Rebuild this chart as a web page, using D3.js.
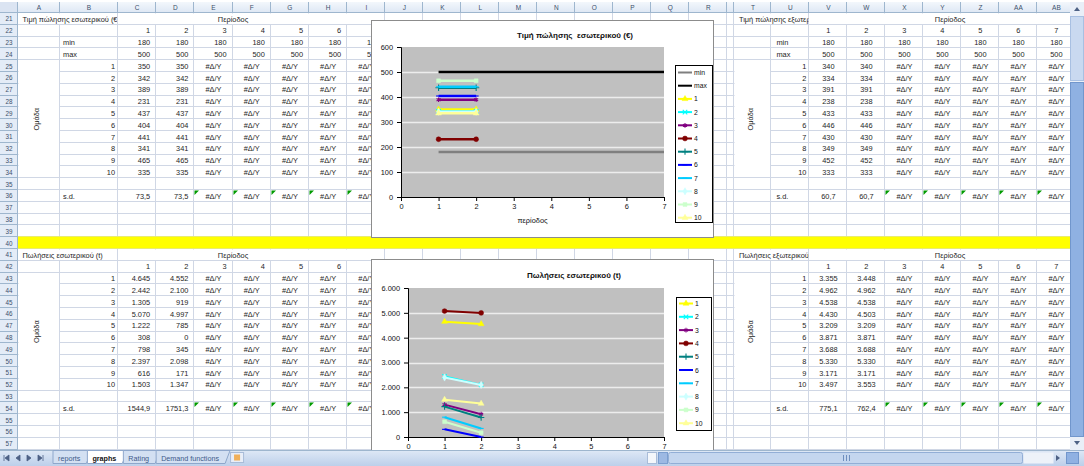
<!DOCTYPE html>
<html><head><meta charset="utf-8">
<script src="https://cdn.jsdelivr.net/npm/d3@7"></script>
<style>
body{margin:0;background:#fff;overflow:hidden}
svg{display:block;font-family:"Liberation Sans",Arial,sans-serif}
</style></head><body>
<svg id="sheet" width="1084" height="466"></svg>
<script>
// ---------- data ----------
const periods = [1, 2, 3, 4, 5, 6, 7];
const groups = [1, 2, 3, 4, 5, 6, 7, 8, 9, 10];
const priceDomMin = [180, 180, 180, 180, 180, 180, 180];
const priceDomMax = [500, 500, 500, 500, 500, 500, 500];
const priceDom = [[350, 350], [342, 342], [389, 389], [231, 231], [437, 437], [404, 404], [441, 441], [341, 341], [465, 465], [335, 335]];
const priceDomSD = ["73,5", "73,5"];
const salesDom = [[4645, 4552], [2442, 2100], [1305, 919], [5070, 4997], [1222, 785], [308, 0], [798, 345], [2397, 2098], [616, 171], [1503, 1347]];
const salesDomSD = ["1544,9", "1751,3"];
const priceExpMin = [180, 180, 180, 180, 180, 180, 180];
const priceExpMax = [500, 500, 500, 500, 500, 500, 500];
const priceExp = [[340, 340], [334, 334], [391, 391], [238, 238], [433, 433], [446, 446], [430, 430], [349, 349], [452, 452], [333, 333]];
const priceExpSD = ["60,7", "60,7"];
const salesExp = [[3355, 3448], [4962, 4962], [4538, 4538], [4430, 4503], [3209, 3209], [3871, 3871], [3688, 3688], [5330, 5330], [3171, 3171], [3497, 3553]];
const salesExpSD = ["775,1", "762,4"];
const priceTicks = [0, 100, 200, 300, 400, 500, 600];
const salesTicks = [0, 1000, 2000, 3000, 4000, 5000, 6000];
const periodTicks = [0, 1, 2, 3, 4, 5, 6, 7];
const sheetTabs = ["reports", "graphs", "Rating", "Demand functions"];
const activeTab = "graphs";
const NA = "#Δ/Υ";

// ---------- styles ----------
const seriesColors = ["#FFFF00", "#00FFFF", "#800080", "#800000", "#008080", "#0000FF", "#00CCFF", "#CCFFFF", "#CCFFCC", "#FFFF99"];
const seriesMarkers = ["triangle", "x", "star", "circle", "plus", "dash", "dash", "diamond", "square", "triangle"];

const svg = d3.select("#sheet");
const W = 1084, H = 466;
const el = d3.formatLocale({decimal: ",", thousands: ".", grouping: [3], currency: ["", "€"]});
const fmtThousands = el.format(",d");
const fmtPlain = d3.format("d");

// ---------- sheet layout ----------
const colNames = ["A","B","C","D","E","F","G","H","I","J","K","L","M","N","O","P","Q","R","S","T","U","V","W","X","Y","Z","AA","AB"];
const colW = [42, 58, 38.2, 38.2, 38.2, 38.2, 38.2, 38.2, 38.2, 38, 38, 38, 38, 38, 38, 38, 38, 38, 7, 37, 38, 38, 38, 38, 38, 38, 38, 38];
const gridX0 = 18, gridX1 = 1070, headTop = 2, headBottom = 13;
const colX = [];
{ let a = gridX0; colW.forEach(w => { colX.push(a); a += w; }); colX.push(a); }
const ci = n => colNames.indexOf(n);
const cL = n => colX[ci(n)];
const cR = n => colX[ci(n) + 1];
const firstRow = 21, lastRow = 58, rowH = 11.8;
const rowTop = r => headBottom + (r - firstRow) * rowH;
const rowMid = r => rowTop(r) + rowH / 2;
const sheetBottom = 450;

svg.append("rect").attr("width", W).attr("height", H).attr("fill", "#fff");

// cell gridlines
const grid = svg.append("g").attr("stroke", "#d0d7e5").attr("stroke-width", 1);
for (let r = firstRow; r <= lastRow; r++) {
  const y = Math.round(rowTop(r + 1)) - 0.5;
  if (y < sheetBottom) grid.append("line").attr("x1", gridX0).attr("x2", gridX1).attr("y1", y).attr("y2", y);
}
colX.forEach(x => {
  const xx = Math.round(x) - 0.5;
  if (xx < gridX1) grid.append("line").attr("x1", xx).attr("x2", xx).attr("y1", headBottom).attr("y2", sheetBottom);
});

// merged areas hide the inner gridlines
const cover = svg.append("g").attr("fill", "#fff");
function merge(c0, c1, r0, r1) {
  cover.append("rect").attr("x", Math.round(cL(c0)) + 0.5).attr("y", Math.round(rowTop(r0)) + 0.5)
    .attr("width", Math.round(cR(c1)) - Math.round(cL(c0)) - 1.5)
    .attr("height", Math.round(rowTop(r1 + 1)) - Math.round(rowTop(r0)) - 1.5);
}
// block title rows and group label columns
[21, 41].forEach(r => { merge("A", "B", r, r); merge("C", "I", r, r); merge("T", "U", r, r); merge("V", "AB", r, r); });
merge("A", "A", 25, 34); merge("A", "A", 43, 52);
merge("T", "T", 25, 34); merge("T", "T", 43, 52);

// separator row
svg.append("rect").attr("x", gridX0).attr("y", Math.round(rowTop(40)) - 0.5).attr("width", gridX1 - gridX0)
  .attr("height", Math.round(rowH)).attr("fill", "#ffff00");

// ---------- cell text ----------
const cells = svg.append("g").attr("font-size", 7.4).attr("fill", "#1e1e1e");
function put(col, row, text, align, pad) {
  let x, anchor;
  if (align === "c") { x = (cL(col) + cR(col)) / 2; anchor = "middle"; }
  else if (align === "l") { x = cL(col) + (pad ?? 3); anchor = "start"; }
  else { x = cR(col) - (pad ?? 3); anchor = "end"; }
  return cells.append("text").attr("x", x).attr("y", rowMid(row) + 2.7).attr("text-anchor", anchor).text(text);
}
function errMark(col, row) {
  const x = Math.round(cL(col)) + 0.5, y = Math.round(rowTop(row)) + 0.5;
  svg.append("path").attr("d", `M${x},${y}h4.5L${x},${y + 4.5}Z`).attr("fill", "#009a00");
}

const clipId = (() => { let n = 0; return () => "clip" + (n++); })();
function blockTitle(c0, c1, row, text) {
  const id = clipId();
  svg.append("clipPath").attr("id", id).append("rect")
    .attr("x", cL(c0)).attr("y", rowTop(row)).attr("width", cR(c1) - cL(c0) - 1).attr("height", rowH);
  cells.append("text").attr("clip-path", `url(#${id})`).attr("x", cL(c0) + 4.5).attr("y", rowMid(row) + 2.7).text(text);
}

// one table block: title row, period row, optional min/max rows, group rows, s.d. row
function tableBlock(o) {
  const valCols = colNames.slice(ci(o.firstVal), ci(o.firstVal) + periods.length);
  blockTitle(o.labelCol, o.groupCol, o.row, o.title);
  cells.append("text").attr("x", o.periodX).attr("y", rowMid(o.row) + 2.7).attr("text-anchor", "middle").text("Περίοδος");
  let r = o.row + 1;
  periods.forEach((p, i) => put(valCols[i], r, fmtPlain(p), o.numAlign, o.numPad));
  r++;
  if (o.min) {
    put(o.groupCol, r, "min", "l", o.textPad);
    o.min.forEach((v, i) => put(valCols[i], r, o.fmt(v), o.numAlign, o.numPad));
    r++;
    put(o.groupCol, r, "max", "l", o.textPad);
    o.max.forEach((v, i) => put(valCols[i], r, o.fmt(v), o.numAlign, o.numPad));
    r++;
  }
  const g0 = r;
  groups.forEach((gr, k) => {
    put(o.groupCol, r, fmtPlain(gr), "r", 3);
    periods.forEach((p, i) => {
      const v = o.values[k][i];
      if (v == null) put(valCols[i], r, NA, "c");
      else put(valCols[i], r, o.fmt(v), o.numAlign, o.numPad);
    });
    r++;
  });
  const gx = (cL(o.labelCol) + cR(o.labelCol)) / 2, gy = (rowTop(g0) + rowTop(r)) / 2;
  cells.append("text").attr("transform", `translate(${gx},${gy}) rotate(-90)`).attr("text-anchor", "middle").text("Ομάδα");
  r++;
  put(o.groupCol, r, "s.d.", "l", o.textPad);
  periods.forEach((p, i) => {
    const v = o.sd[i];
    if (v == null) { put(valCols[i], r, NA, "c"); errMark(valCols[i], r); }
    else put(valCols[i], r, v, o.numAlign, o.numPad);
  });
}

tableBlock({row: 21, title: "Τιμή πώλησης εσωτερικού (€)", labelCol: "A", groupCol: "B", firstVal: "C", periodX: 233,
  min: priceDomMin, max: priceDomMax, values: priceDom, sd: priceDomSD, fmt: fmtPlain, numAlign: "r", numPad: 6, textPad: 3});
tableBlock({row: 41, title: "Πωλήσεις εσωτερικού (t)", labelCol: "A", groupCol: "B", firstVal: "C", periodX: 233,
  values: salesDom, sd: salesDomSD, fmt: fmtThousands, numAlign: "r", numPad: 6, textPad: 3});
tableBlock({row: 21, title: "Τιμή πώλησης εξωτερικού (€)", labelCol: "T", groupCol: "U", firstVal: "V", periodX: 950,
  min: priceExpMin, max: priceExpMax, values: priceExp, sd: priceExpSD, fmt: fmtPlain, numAlign: "c", textPad: 5});
tableBlock({row: 41, title: "Πωλήσεις εξωτερικού (t)", labelCol: "T", groupCol: "U", firstVal: "V", periodX: 950,
  values: salesExp, sd: salesExpSD, fmt: fmtThousands, numAlign: "c", textPad: 5});

// ---------- charts ----------
function markerPath(type) {
  const size = 15;
  switch (type) {
    case "triangle": return d3.symbol(d3.symbolTriangle, size)();
    case "x": return d3.symbol(d3.symbolTimes, size)();
    case "star": return d3.symbol(d3.symbolAsterisk, size)();
    case "circle": return d3.symbol(d3.symbolCircle, size + 4)();
    case "plus": return d3.symbol(d3.symbolPlus, size)();
    case "diamond": return d3.symbol(d3.symbolDiamond, size)();
    case "square": return d3.symbol(d3.symbolSquare, size)();
    case "dash": return "M-2.5,0H2.5";
  }
  return null;
}
const strokeMarkers = new Set(["x", "star", "plus", "dash"]);
function markerStyle(sel, s) {
  if (strokeMarkers.has(s.marker)) sel.attr("fill", "none").attr("stroke", s.color).attr("stroke-width", 1.1);
  else sel.attr("fill", s.color).attr("stroke", s.color).attr("stroke-width", 0.5);
}
function styleAxis(g) {
  g.select(".domain").attr("stroke", "#000").attr("stroke-width", 1);
  g.selectAll(".tick line").attr("stroke", "#000");
  g.selectAll(".tick text").attr("font-size", 7.4).attr("fill", "#111").attr("font-family", "Liberation Sans, Arial, sans-serif");
}

function lineChart(c) {
  const g = svg.append("g");
  g.append("rect").attr("x", c.frame.x + 0.5).attr("y", c.frame.y + 0.5).attr("width", c.frame.w).attr("height", c.frame.h)
    .attr("fill", "#fff").attr("stroke", "#8c8c8c");
  const x = d3.scaleLinear().domain([0, 7]).range([c.plot.x, c.plot.x + c.plot.w]);
  const y = d3.scaleLinear().domain([0, c.yMax]).range([c.plot.y + c.plot.h, c.plot.y]);
  g.append("rect").attr("x", c.plot.x).attr("y", c.plot.y).attr("width", c.plot.w).attr("height", c.plot.h).attr("fill", "#c0c0c0");
  g.append("g").selectAll("line").data(c.yTicks.filter(t => t > 0 && t < c.yMax)).join("line")
    .attr("x1", c.plot.x).attr("x2", c.plot.x + c.plot.w)
    .attr("y1", d => Math.round(y(d)) + 0.5).attr("y2", d => Math.round(y(d)) + 0.5)
    .attr("stroke", "#ededed").attr("stroke-width", 1.4);
  g.append("g").attr("transform", `translate(${c.plot.x},0)`)
    .call(d3.axisLeft(y).tickValues(c.yTicks).tickFormat(c.fmt).tickSize(4).tickPadding(4)).call(styleAxis);
  g.append("g").attr("transform", `translate(0,${c.plot.y + c.plot.h})`)
    .call(d3.axisBottom(x).tickValues(periodTicks).tickFormat(fmtPlain).tickSize(4).tickPadding(3)).call(styleAxis);
  g.append("text").attr("x", c.titleX).attr("y", c.titleY).attr("text-anchor", "middle").attr("font-size", 8)
    .attr("font-weight", "bold").attr("fill", "#111").style("white-space", "pre").text(c.title);
  if (c.xLabel) g.append("text").attr("x", x(3.5)).attr("y", c.xLabelY).attr("text-anchor", "middle")
    .attr("font-size", 7.4).attr("fill", "#111").text(c.xLabel);

  const line = d3.line().defined(d => d.v != null).x(d => x(d.p)).y(d => y(d.v));
  c.series.forEach(s => {
    const pts = periods.map((p, i) => ({p, v: s.values[i] == null ? null : s.values[i]}));
    g.append("path").attr("d", line(pts)).attr("fill", "none").attr("stroke", s.color).attr("stroke-width", c.lineW);
    if (s.marker) g.append("g").selectAll("path").data(pts.filter(d => d.v != null)).join("path")
      .attr("transform", d => `translate(${x(d.p)},${y(d.v)})`).attr("d", markerPath(s.marker)).call(markerStyle, s);
  });

  const lg = g.append("g");
  lg.append("rect").attr("x", c.legend.x + 0.5).attr("y", c.legend.y + 0.5).attr("width", c.legend.w).attr("height", c.legend.h)
    .attr("fill", "#fff").attr("stroke", "#000");
  c.series.forEach((s, i) => {
    const ly = c.legend.y + c.legend.first + i * c.legend.step;
    const lx = c.legend.x + 3;
    lg.append("line").attr("x1", lx).attr("x2", lx + 14).attr("y1", ly).attr("y2", ly).attr("stroke", s.color).attr("stroke-width", 2);
    if (s.marker) lg.append("path").attr("transform", `translate(${lx + 7},${ly})`).attr("d", markerPath(s.marker)).call(markerStyle, s);
    lg.append("text").attr("x", lx + 16).attr("y", ly + 2.5).attr("font-size", 6.8).attr("fill", "#111").text(s.name);
  });
}

const groupSeries = vals => groups.map((gr, i) => ({name: String(gr), values: vals[i], color: seriesColors[i], marker: seriesMarkers[i]}));

lineChart({
  frame: {x: 371, y: 20, w: 342, h: 217},
  plot: {x: 401, y: 47, w: 263, h: 150},
  yMax: 600, yTicks: priceTicks, fmt: fmtPlain,
  title: "Τιμή πώλησης  εσωτερικού (€)", titleX: 575, titleY: 38,
  xLabel: "περίοδος", xLabelY: 223, lineW: 2.5,
  series: [{name: "min", values: priceDomMin, color: "#7f7f7f"}, {name: "max", values: priceDomMax, color: "#000"}].concat(groupSeries(priceDom)),
  legend: {x: 675, y: 65, w: 37, h: 157, first: 7.5, step: 13.2}
});
lineChart({
  frame: {x: 371, y: 259, w: 342, h: 215},
  plot: {x: 408, y: 288, w: 256, h: 149},
  yMax: 6000, yTicks: salesTicks, fmt: fmtThousands,
  title: "Πωλήσεις εσωτερικού (t)", titleX: 574, titleY: 278, lineW: 2,
  series: groupSeries(salesDom),
  legend: {x: 676, y: 297, w: 35, h: 133, first: 6.5, step: 13.3}
});

// ---------- headers ----------
const hdr = svg.append("g");
const hg = svg.append("defs").append("linearGradient").attr("id", "hdrGrad").attr("x1", 0).attr("x2", 0).attr("y1", 0).attr("y2", 1);
hg.append("stop").attr("offset", 0).attr("stop-color", "#f3f7fc");
hg.append("stop").attr("offset", 1).attr("stop-color", "#dde7f4");
hdr.append("rect").attr("x", 0).attr("y", headTop).attr("width", gridX1).attr("height", headBottom - headTop).attr("fill", "url(#hdrGrad)");
hdr.append("rect").attr("x", 0).attr("y", headBottom).attr("width", gridX0).attr("height", sheetBottom - headBottom).attr("fill", "#e4ecf7");
hdr.append("rect").attr("x", 0).attr("y", headTop).attr("width", gridX0).attr("height", headBottom - headTop).attr("fill", "#dbe4f2");
colNames.forEach((n, i) => {
  const x = Math.round(colX[i + 1]) - 0.5;
  hdr.append("line").attr("x1", x).attr("x2", x).attr("y1", headTop).attr("y2", headBottom).attr("stroke", "#9eb6ce");
  if (colW[i] > 12) hdr.append("text").attr("x", (colX[i] + colX[i + 1]) / 2).attr("y", headBottom - 2.6)
    .attr("text-anchor", "middle").attr("font-size", 6.5).attr("fill", "#3c4f6a").text(n);
});
hdr.append("line").attr("x1", 0).attr("x2", gridX1).attr("y1", headBottom - 0.5).attr("y2", headBottom - 0.5).attr("stroke", "#9eb6ce");
hdr.append("line").attr("x1", gridX0 - 0.5).attr("x2", gridX0 - 0.5).attr("y1", headTop).attr("y2", sheetBottom).attr("stroke", "#9eb6ce");
for (let r = firstRow; r <= lastRow; r++) {
  if (rowTop(r) >= sheetBottom) break;
  const y = Math.round(rowTop(r + 1)) - 0.5;
  if (y < sheetBottom) hdr.append("line").attr("x1", 0).attr("x2", gridX0).attr("y1", y).attr("y2", y).attr("stroke", "#9eb6ce");
  hdr.append("text").attr("x", gridX0 / 2).attr("y", rowMid(r) + 2.4).attr("text-anchor", "middle")
    .attr("font-size", 6.3).attr("fill", "#3c4f6a").text(r);
}

// ---------- vertical scroll bar ----------
const vs = svg.append("g");
vs.append("rect").attr("x", 1070).attr("y", headTop).attr("width", 14).attr("height", sheetBottom - headTop).attr("fill", "#e9eff8");
vs.append("rect").attr("x", 1070.5).attr("y", 82.5).attr("width", 13).attr("height", 354).attr("fill", "#8fb1e2").attr("stroke", "#7196cc");
vs.append("rect").attr("x", 1070.5).attr("y", 16.5).attr("width", 13).attr("height", 64).attr("fill", "#c9d9f0").attr("stroke", "#a8c0e2");
vs.append("path").attr("d", "M1074,11l3,-4l3,4Z").attr("fill", "#4d6185");
vs.append("path").attr("d", "M1074,441l3,4l3,-4Z").attr("fill", "#4d6185");

// ---------- sheet tabs and horizontal scroll bar ----------
const tb = svg.append("g");
const tg = svg.append("defs").append("linearGradient").attr("id", "barGrad").attr("x1", 0).attr("x2", 0).attr("y1", 0).attr("y2", 1);
tg.append("stop").attr("offset", 0).attr("stop-color", "#dfe9f6");
tg.append("stop").attr("offset", 1).attr("stop-color", "#bccfea");
tb.append("rect").attr("x", 0).attr("y", sheetBottom).attr("width", W).attr("height", H - sheetBottom).attr("fill", "url(#barGrad)");
tb.append("line").attr("x1", 0).attr("x2", W).attr("y1", sheetBottom + 0.5).attr("y2", sheetBottom + 0.5).attr("stroke", "#9eb6ce");
// navigation arrows
["M4,455v6M5,458l4,-3v6Z", "M16,458l4,-3v6Z", "M27,455l4,3l-4,3Z", "M38,455l4,3l-4,3ZM43,455v6"].forEach(d =>
  tb.append("path").attr("d", d).attr("fill", "#4d6185").attr("stroke", "#4d6185").attr("stroke-width", 0.8));
// tabs
let tx = 53;
const tabGap = 11;
sheetTabs.forEach(name => {
  const active = name === activeTab;
  const t = tb.append("text").attr("y", 461).attr("font-size", 7.2).attr("font-weight", active ? "bold" : "normal")
    .attr("fill", active ? "#111" : "#3d5a8a").text(name);
  const w = t.node().getComputedTextLength() + tabGap;
  tb.insert("path", "text").attr("d", `M${tx},${sheetBottom + 0.5}v13h${w}l5,-13Z`)
    .attr("fill", active ? "#ffffff" : "#d3e0f2").attr("stroke", "#8ea7cb");
  t.attr("x", tx + 5);
  tx += w + 1;
});
tb.append("rect").attr("x", tx + 4.5).attr("y", 452.5).attr("width", 13).attr("height", 10).attr("fill", "#e8eef8").attr("stroke", "#a9bcd8");
tb.append("rect").attr("x", tx + 8).attr("y", 454.5).attr("width", 6).attr("height", 6).attr("fill", "#f0b05a");
// horizontal scroll bar
tb.append("rect").attr("x", 647.5).attr("y", 452.5).attr("width", 9).attr("height", 11).attr("fill", "#f4f7fb").attr("stroke", "#a9bcd8");
tb.append("rect").attr("x", 658.5).attr("y", 452.5).attr("width", 9).attr("height", 11).attr("fill", "#9db9e3").attr("stroke", "#7c9fd0");
tb.append("rect").attr("x", 668.5).attr("y", 452.5).attr("width", 354).attr("height", 11).attr("rx", 2).attr("fill", "#c4d6ef").attr("stroke", "#92aed6");
[-3, 0, 3].forEach(d => tb.append("line").attr("x1", 846 + d + 0.5).attr("x2", 846 + d + 0.5).attr("y1", 455).attr("y2", 461).attr("stroke", "#6f8fbf"));
tb.append("rect").attr("x", 1023.5).attr("y", 452.5).attr("width", 30).attr("height", 11).attr("fill", "#edf2f9");
tb.append("path").attr("d", "M1056,455l4,3l-4,3Z").attr("fill", "#4d6185");
tb.append("rect").attr("x", 1066.5).attr("y", 452.5).attr("width", 12).attr("height", 11).attr("fill", "#8fb1e2").attr("stroke", "#7196cc");
</script>
</body></html>
